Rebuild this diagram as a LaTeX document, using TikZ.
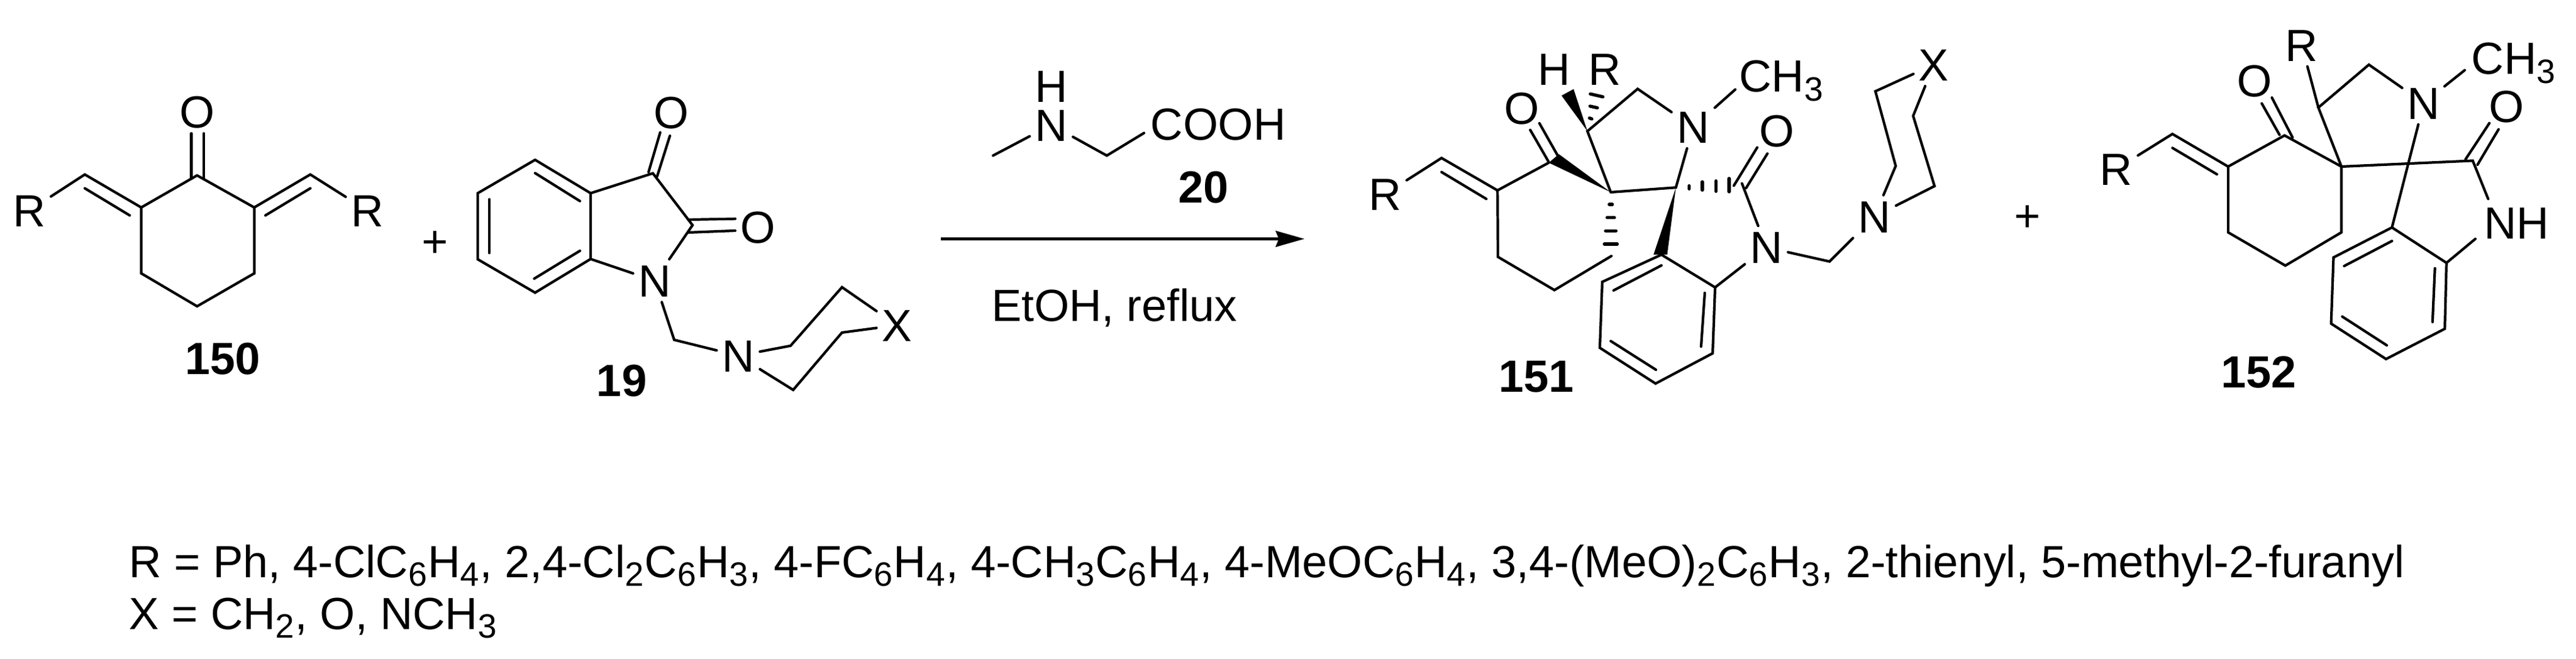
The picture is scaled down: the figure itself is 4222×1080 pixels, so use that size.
\documentclass[tikz,border=0pt]{standalone}
\usepackage{fontspec}
\setmainfont{Liberation Sans}
\usetikzlibrary{arrows.meta}
\newcommand{\subs}[1]{\raisebox{-0.2em}{\scalebox{0.75}{#1}}\kern0.017em}
\tikzset{bond/.style = {line width=1.2pt,line join=miter,line cap=round}}
\tikzset{hash/.style = {line width=1.5pt,line cap=round}}
\tikzset{atom/.style = {shape=rectangle,inner sep=2.5pt,outer sep=0pt,text height=15pt,text depth=0pt,font=\fontsize{21}{25}\selectfont}}
\tikzset{cpd/.style = {shape=rectangle,inner sep=0pt,text height=15pt,text depth=0pt,font=\fontsize{21}{25}\selectfont\bfseries}}
\tikzset{note/.style = {anchor=base west,inner sep=0pt,font=\fontsize{21}{25}\selectfont}}
\tikzset{rxn/.style = {line width=1.6pt,-{Stealth[length=4.7mm,width=2.6mm,inset=0.5mm]}}}

\begin{document}
\begin{tikzpicture}[x=0.01cm,y=-0.01cm]
        \useasboundingbox (0,0) rectangle (4222,1080);
        \node[atom] (aO) at (323,183) {O};
        \node[atom] (aR1) at (48,345) {R};
        \node[atom] (aR2) at (602,345) {R};
        \node[cpd] (a150) at (365,587) {150};
        \coordinate (a1) at (323,287.5);
        \coordinate (a2) at (231.5,340);
        \coordinate (a3) at (231.5,448);
        \coordinate (a4) at (323,502);
        \coordinate (a5) at (416.7,448);
        \coordinate (a6) at (416.7,340);
        \coordinate (a7) at (139,286);
        \coordinate (a8) at (508.6,286);
        \coordinate (a9) at (139,308.6);
        \coordinate (a10) at (212.6,353);
        \coordinate (a11) at (508.6,308.6);
        \coordinate (a12) at (435,353);
        \coordinate (a13) at (313.6,218.6);
        \coordinate (a14) at (313.6,293);
        \coordinate (a15) at (334,218.6);
        \coordinate (a16) at (334,293);
        \draw[bond] (a1) to (a2) to (a3) to (a4) to (a5) to (a6) to (a1);
        \draw[bond] (aR1) to (a7) to (a2);
        \draw[bond] (aR2) to (a8) to (a6);
        \draw[bond] (a9) to (a10);
        \draw[bond] (a11) to (a12);
        \draw[bond] (a13) to (a14);
        \draw[bond] (a15) to (a16);
        \node[atom] (plus1) at (712.7,394.7) {+};
        \node[atom] (bO1) at (1100,184) {O};
        \node[atom] (bO2) at (1242,372) {O};
        \node[atom] (bN1) at (1073,460) {N};
        \node[atom] (bN2) at (1210,583) {N};
        \node[atom] (bX) at (1470,533) {X};
        \node[cpd] (b19) at (1019,623) {19};
        \coordinate (b1) at (877,262);
        \coordinate (b2) at (783,316.6);
        \coordinate (b3) at (783,425);
        \coordinate (b4) at (877,479.6);
        \coordinate (b5) at (968,424.5);
        \coordinate (b6) at (968,316.6);
        \coordinate (b7) at (1070,284);
        \coordinate (b8) at (1135,369);
        \coordinate (b9) at (1105,557);
        \coordinate (b10) at (1295.7,566.7);
        \coordinate (b11) at (1380,470.7);
        \coordinate (b12) at (1380,545);
        \coordinate (b13) at (1300,639);
        \coordinate (b14) at (877,283.7);
        \coordinate (b15) at (950.5,329.6);
        \coordinate (b16) at (802,326.6);
        \coordinate (b17) at (802,414.6);
        \coordinate (b18) at (875.5,456.7);
        \coordinate (b19a) at (950.5,411);
        \coordinate (b20) at (1063,282);
        \coordinate (b21) at (1082,217);
        \coordinate (b22) at (1077,289);
        \coordinate (b23) at (1098,222.5);
        \coordinate (b24) at (1128,360);
        \coordinate (b25) at (1205,358.6);
        \coordinate (b26) at (1128,381);
        \coordinate (b27) at (1205,378);
        \draw[bond] (b1) to (b2) to (b3) to (b4) to (b5) to (b6) to (b1);
        \draw[bond] (b5) to (bN1);
        \draw[bond] (b6) to (b7) to (b8) to (bN1);
        \draw[bond] (bN1) to (b9) to (bN2);
        \draw[bond] (bN2) to (b10) to (b11) to (bX);
        \draw[bond] (bX) to (b12) to (b13) to (bN2);
        \draw[bond] (b14) to (b15);
        \draw[bond] (b16) to (b17);
        \draw[bond] (b18) to (b19a);
        \draw[bond] (b20) to (b21);
        \draw[bond] (b22) to (b23);
        \draw[bond] (b24) to (b25);
        \draw[bond] (b26) to (b27);
        \node[atom,inner sep=0pt] (gH) at (1723,141.6) {H};
        \node[atom] (gN) at (1723,204.7) {N};
        \node[atom,anchor=west] (gCOOH) at (1877,203.5) {COOH};
        \node[cpd] (g20) at (1972.7,306) {20};
        \node[note] (gEt) at (1624.7,527) {EtOH, reflux};
        \coordinate (g1) at (1627.5,255);
        \coordinate (g2) at (1814,255);
        \coordinate (g3) at (1875,218);
        \coordinate (arrL) at (1542,391.5);
        \coordinate (arrR) at (2138,391.5);
        \draw[bond] (g1) to (gN);
        \draw[bond] (gN) to (g2) to (g3);
        \draw[rxn] (arrL) to (arrR);
        \node[atom] (cR1) at (2270,318) {R};
        \node[atom] (cO1) at (2494.6,177) {O};
        \node[atom] (cH) at (2546.7,113.3) {H};
        \node[atom] (cR2) at (2630,113.3) {R};
        \node[atom] (cN1) at (2775,208) {N};
        \node[atom,anchor=west] (cCH) at (2841.7,124) {CH\subs{3}};
        \node[atom] (cO2) at (2912.4,214) {O};
        \node[atom] (cN2) at (2895,405.4) {N};
        \node[atom] (cN3) at (3072,355) {N};
        \node[atom] (cX) at (3169.4,106) {X};
        \node[cpd] (c151) at (2517.6,616) {151};
        \coordinate (c1) at (2454.3,312);
        \coordinate (c2) at (2455,421);
        \coordinate (c3) at (2547.6,475.4);
        \coordinate (c4) at (2641,419.6);
        \coordinate (c5) at (2538.3,266.7);
        \coordinate (c5b) at (2555,252.7);
        \coordinate (c6) at (2640,315);
        \coordinate (c7) at (2362.6,259);
        \coordinate (c8) at (2601.7,215);
        \coordinate (c8a) at (2559.3,156.7);
        \coordinate (c8b) at (2579,146);
        \coordinate (c9) at (2684,145.7);
        \coordinate (c10) at (2746.7,307.3);
        \coordinate (c11) at (2710,417.4);
        \coordinate (c11b) at (2732.5,417.4);
        \coordinate (c12) at (2723,417.4);
        \coordinate (c13) at (2626,462);
        \coordinate (c14) at (2622,570);
        \coordinate (c15) at (2713.4,628.6);
        \coordinate (c16) at (2807,579);
        \coordinate (c17) at (2811,471);
        \coordinate (c18) at (2855,300.7);
        \coordinate (c19) at (2998.5,428.6);
        \coordinate (c20) at (3107,272);
        \coordinate (c21) at (3073.7,149.6);
        \coordinate (c22) at (3135.6,190);
        \coordinate (c23) at (3170.6,305);
        \coordinate (c24) at (2844,146.7);
        \coordinate (c25) at (2362.6,282);
        \coordinate (c26) at (2436,326);
        \coordinate (c27) at (2508,213);
        \coordinate (c28) at (2538,265);
        \coordinate (c29) at (2523,202);
        \coordinate (c30) at (2552.7,254.5);
        \coordinate (c31) at (2841.7,304.3);
        \coordinate (c32) at (2880,241.7);
        \coordinate (c33) at (2861.7,308.3);
        \coordinate (c34) at (2896.7,251.7);
        \coordinate (c35) at (2723,435);
        \coordinate (c36) at (2644.5,476);
        \coordinate (c37) at (2794,480);
        \coordinate (c38) at (2788,568);
        \coordinate (c39) at (2640,559);
        \coordinate (c40) at (2714,606);
        \draw[bond] (cR1) to (c7) to (c1) to (c2) to (c3) to (c4);
        \draw[bond] (c1) to (c5);
        \fill (c6) -- (c5) -- (c5b) -- cycle;
        \fill (c8) -- (c8a) -- (c8b) -- cycle;
        \fill (c10) -- (c11) -- (c11b) -- cycle;
        \draw[bond] (c6) to (c8) to (c9) to (cN1);
        \draw[bond] (cN1) to (c24);
        \draw[bond] (c6) to (c10) to (cN1);
        \draw[bond] (c12) to (c13) to (c14) to (c15) to (c16) to (c17) to (c12);
        \draw[bond] (c17) to (cN2);
        \draw[bond] (cN2) to (c18);
        \draw[bond] (cN2) to (c19) to (cN3);
        \draw[bond] (cN3) to (c20) to (c21) to (cX);
        \draw[bond] (cX) to (c22) to (c23) to (cN3);
        \draw[bond] (c25) to (c26);
        \draw[bond] (c27) to (c28);
        \draw[bond] (c29) to (c30);
        \draw[bond] (c31) to (c32);
        \draw[bond] (c33) to (c34);
        \draw[bond] (c35) to (c36);
        \draw[bond] (c37) to (c38);
        \draw[bond] (c39) to (c40);
        \draw[hash] (2637.5,335) to (2642.5,335);
        \draw[hash] (2634,356.7) to (2646,356.7);
        \draw[hash] (2631.5,378.3) to (2648.5,378.3);
        \draw[hash] (2629.5,400) to (2650.5,400);
        \draw[hash] (2605,193.5) to (2609,195);
        \draw[hash] (2606,174) to (2618,176.7);
        \draw[hash] (2606.5,154) to (2627,158.7);
        \draw[hash] (2768.3,304.5) to (2768.3,309.5);
        \draw[hash] (2790,298) to (2790,311.5);
        \draw[hash] (2812.3,296.5) to (2812.3,313.5);
        \draw[hash] (2834,292.5) to (2834,314.2);
        \node[atom] (plus2) at (3322.6,352.7) {+};
        \node[atom] (dR1) at (3468.6,276.8) {R};
        \node[atom] (dO1) at (3695.4,131.7) {O};
        \node[atom] (dR2) at (3772.4,73.7) {R};
        \node[atom] (dN1) at (3972.5,168.8) {N};
        \node[atom,anchor=west] (dCH) at (4041.9,94.9) {CH\subs{3}};
        \node[atom] (dO2) at (4108,174) {O};
        \node[atom,anchor=west] (dNH) at (4062.8,365) {NH};
        \node[cpd] (d152) at (3702,609.4) {152};
        \coordinate (d1) at (3651.8,273);
        \coordinate (d2) at (3651.8,380.8);
        \coordinate (d3) at (3745.6,435.3);
        \coordinate (d4) at (3837.5,380.8);
        \coordinate (d5) at (3744.3,222);
        \coordinate (d6) at (3837.5,273);
        \coordinate (d7) at (3560.5,219.6);
        \coordinate (d8) at (3799.7,176.3);
        \coordinate (d9) at (3882.5,106);
        \coordinate (d10) at (3920.3,372.8);
        \coordinate (d11) at (3824.5,421.9);
        \coordinate (d12) at (3820.6,530.4);
        \coordinate (d13) at (3910.6,588.4);
        \coordinate (d14) at (4007,538.8);
        \coordinate (d15) at (4009.7,430.8);
        \coordinate (d16) at (4052.7,263.4);
        \coordinate (d17) at (4006.4,141.5);
        \coordinate (d18) at (4039.6,115);
        \coordinate (d19) at (4078,326);
        \coordinate (d20) at (4057,391.5);
        \coordinate (d21) at (3560.5,242.4);
        \coordinate (d22) at (3633.5,285.7);
        \coordinate (d23) at (3707,169.6);
        \coordinate (d24) at (3736,221);
        \coordinate (d25) at (3723.5,160);
        \coordinate (d26) at (3757.4,225.4);
        \coordinate (d27) at (4041,261);
        \coordinate (d28) at (4080,201.8);
        \coordinate (d29) at (4060.5,270);
        \coordinate (d30) at (4095,212);
        \coordinate (d31) at (3920.3,395);
        \coordinate (d32) at (3842,436);
        \coordinate (d33) at (3990.7,439.7);
        \coordinate (d34) at (3986.8,527.7);
        \coordinate (d35) at (3838.8,518.8);
        \coordinate (d36) at (3911.9,566);
        \draw[bond] (dR1) to (d7) to (d1) to (d2) to (d3) to (d4) to (d6) to (d5) to (d1);
        \draw[bond] (d6) to (d8) to (d9) to (dN1);
        \draw[bond] (d8) to (dR2);
        \draw[bond] (dN1) to (d10);
        \draw[bond] (d17) to (d18);
        \draw[bond] (d6) to (d16) to (d19);
        \draw[bond] (d10) to (d11) to (d12) to (d13) to (d14) to (d15) to (d10);
        \draw[bond] (d15) to (d20);
        \draw[bond] (d21) to (d22);
        \draw[bond] (d23) to (d24);
        \draw[bond] (d25) to (d26);
        \draw[bond] (d27) to (d28);
        \draw[bond] (d29) to (d30);
        \draw[bond] (d31) to (d32);
        \draw[bond] (d33) to (d34);
        \draw[bond] (d35) to (d36);
        \node[note] (nR) at (211,946) {R = Ph, 4-ClC\subs{6}H\subs{4}, 2,4-Cl\subs{2}C\subs{6}H\subs{3}, 4-FC\subs{6}H\subs{4}, 4-CH\subs{3}C\subs{6}H\subs{4}, 4-MeOC\subs{6}H\subs{4}, 3,4-(MeO)\subs{2}C\subs{6}H\subs{3}, 2-thienyl, 5-methyl-2-furanyl};
        \node[note] (nX) at (211,1031) {X = CH\subs{2}, O, NCH\subs{3}};
    \end{tikzpicture}
\end{document}
